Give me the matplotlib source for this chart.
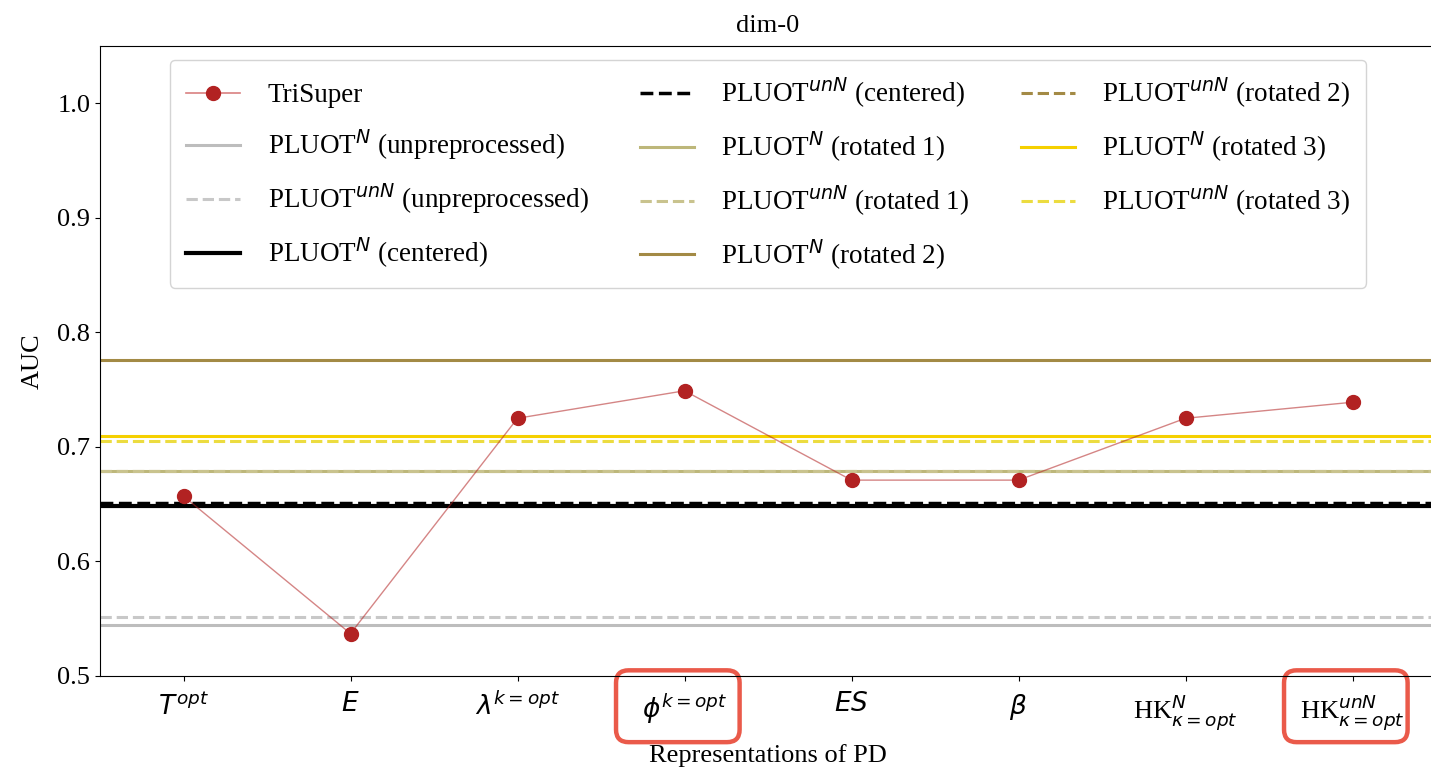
import matplotlib
matplotlib.use("Agg")
import matplotlib.pyplot as plt
from matplotlib.patches import FancyBboxPatch

plt.rcParams["font.family"] = ["Liberation Serif", "DejaVu Serif"]
plt.rcParams["mathtext.fontset"] = "dejavusans"

# x categories (representations of PD)
reps = [r"$T^{opt}$", r"$E$", r"$\lambda^{k=opt}$", r"$\phi^{k=opt}$",
        r"$ES$", r"$\beta$", r"HK$^{N}_{\kappa=opt}$", r"HK$^{unN}_{\kappa=opt}$"]
trisuper = [0.657, 0.537, 0.725, 0.749, 0.671, 0.671, 0.725, 0.739]

# reference levels (AUC)
unpre_N = 0.5445
unpre_unN = 0.5512
cent_N = 0.6483
cent_unN = 0.6512
rot1_N = 0.6790
rot1_unN = 0.6786
rot2_N = 0.7757
rot2_unN = 0.6788
rot3_N = 0.7094
rot3_unN = 0.7048

# indices of boxed ticks
highlighted = [3, 7]

fig = plt.figure(figsize=(14.31, 7.72), dpi=100)
ax = fig.add_axes([100 / 1431, 96 / 772, 1336 / 1431, 630 / 772])

x = list(range(1, len(reps) + 1))
ax.plot(x, trisuper, color="#b22222", lw=1, alpha=0.55, zorder=10)
ax.plot([], [], color="#d98080", lw=1.2, marker="o", markersize=10,
        markerfacecolor="#b22222", markeredgecolor="#b22222", label="TriSuper")
ax.plot(x, trisuper, ls="none", marker="o", markersize=10,
        color="#b22222", zorder=11)

lw = 2.2
ax.axhline(unpre_N, color="#bdbdbd", lw=lw, label=r"PLUOT$^N$ (unpreprocessed)")
ax.axhline(unpre_unN, color="#c8c8c8", lw=lw, ls="--", label=r"PLUOT$^{unN}$ (unpreprocessed)")
ax.axhline(cent_N, color="black", lw=3, label=r"PLUOT$^N$ (centered)")
ax.axhline(cent_unN, color="black", lw=2.5, ls="--", label=r"PLUOT$^{unN}$ (centered)")
ax.axhline(rot2_unN, color="#a38a45", lw=lw, ls="--", zorder=1.5)
ax.axhline(rot1_N, color="#bdb77a", lw=lw, label=r"PLUOT$^N$ (rotated 1)")
ax.axhline(rot1_unN, color="#c9c38e", lw=lw, ls="--", label=r"PLUOT$^{unN}$ (rotated 1)")
ax.axhline(rot2_N, color="#a38a45", lw=lw, label=r"PLUOT$^N$ (rotated 2)")
ax.plot([], [], color="#a38a45", lw=lw, ls="--", label=r"PLUOT$^{unN}$ (rotated 2)")
ax.axhline(rot3_N, color="#f5d000", lw=lw, label=r"PLUOT$^N$ (rotated 3)")
ax.axhline(rot3_unN, color="#ecdc40", lw=lw, ls="--", label=r"PLUOT$^{unN}$ (rotated 3)")

ax.set_xlim(0.5, len(reps) + 0.5)
ax.set_ylim(0.5, 1.05)
ax.set_xticks(x)
ax.set_xticklabels(reps, fontsize=19)
ax.set_yticks([0.5, 0.6, 0.7, 0.8, 0.9, 1.0])
ax.tick_params(axis="y", labelsize=19)
ax.tick_params(axis="x", pad=8)
ax.set_xlabel("Representations of PD", fontsize=19, labelpad=9)
ax.set_ylabel("AUC", fontsize=19, labelpad=10)
ax.set_title("dim-0", fontsize=19, pad=10)

ax.legend(ncol=3, loc="upper center", bbox_to_anchor=(0.5, 0.978),
          borderaxespad=0, fontsize=19.5, handlelength=2.0,
          handletextpad=1.0, columnspacing=1.9, labelspacing=0.72,
          borderpad=0.6, framealpha=0.9, edgecolor="#d0d0d0")

# red highlight boxes around two tick labels
for i in highlighted:
    box = FancyBboxPatch((x[i] - 0.04 - 0.37, -0.105), 0.74, 0.114,
                         boxstyle="round,pad=0,rounding_size=0.075",
                         mutation_aspect=167 / 630,
                         transform=ax.get_xaxis_transform(),
                         fc="none", ec="#ea5a4a", lw=3.2, clip_on=False)
    ax.add_patch(box)

fig.savefig("out.png", dpi=100)
